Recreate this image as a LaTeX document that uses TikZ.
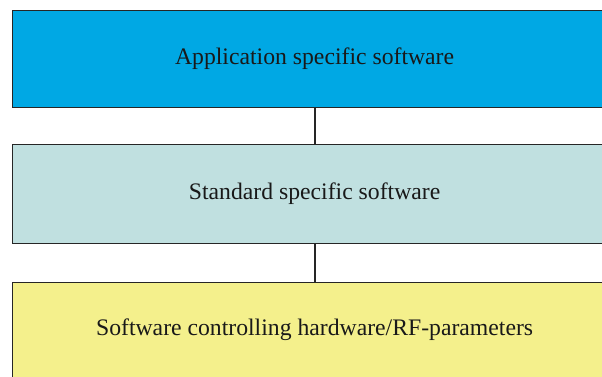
\documentclass[tikz,border=0pt]{standalone}
\usepackage{fontspec}
\setmainfont{Liberation Serif}
\definecolor{topblue}{RGB}{0,168,228}
\definecolor{midteal}{RGB}{192,224,224}
\definecolor{lowyellow}{RGB}{244,240,140}
\begin{document}
\begin{tikzpicture}[x=1pt,y=-1pt,
  layer/.style={draw=black!85,line width=1.2pt,minimum width=604pt,minimum height=97pt,anchor=north west,inner sep=0pt,font=\fontsize{23.7}{28}\selectfont,text=black!90},
  link/.style={draw=black!85,line width=2pt}]
\useasboundingbox (0,0) rectangle (602,376);
\clip (0,0) rectangle (602,376);
\node[layer,fill=topblue] (app) at (12,9.5) {Application specific software};
\node[layer,fill=midteal,minimum height=99pt] (std) at (12,144) {Standard specific software};
\node[layer,fill=lowyellow,minimum height=96pt] (hw) at (12,281.5) {Software controlling hardware/RF-parameters};
\draw[link] (app.south) -- (std.north);
\draw[link] (std.south) -- (hw.north);
\end{tikzpicture}
\end{document}
